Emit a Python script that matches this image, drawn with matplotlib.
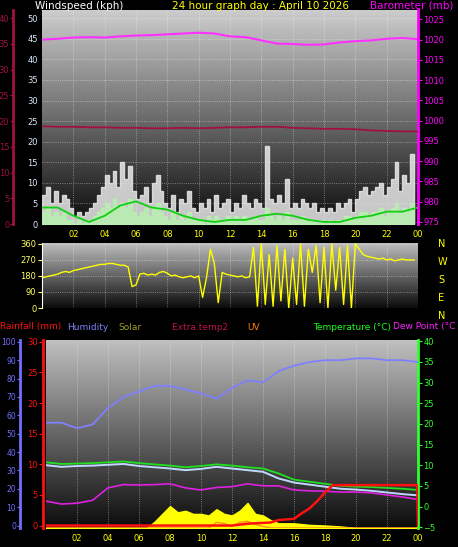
import numpy as np
import matplotlib.pyplot as plt

W, H = 458, 547

# ---- data ----
hours = list(range(25))
baro = [1020, 1020.2, 1020.5, 1020.6, 1020.5, 1020.8, 1021, 1021.1, 1021.3, 1021.5, 1021.7, 1021.5,
        1020.8, 1020.6, 1019.8, 1019.0, 1018.9, 1018.7, 1018.8, 1019.3, 1019.6, 1019.8, 1020.2, 1020.4, 1020.1]
extra_temp = [19.0, 18.9, 18.9, 18.8, 18.8, 18.7, 18.7, 18.6, 18.6, 18.7, 18.6, 18.7,
              18.8, 18.8, 18.9, 18.9, 18.7, 18.6, 18.5, 18.5, 18.4, 18.2, 18.1, 18.0, 18.0]
wind_avg_line = [4, 4, 2, 0.5, 2, 4.5, 5.5, 4, 3.5, 2, 1, 0.5, 1, 1, 2, 2.5, 2, 1, 0.5, 0.5, 1.5, 2, 3, 3, 4]

q_hours = [i * 0.25 for i in range(96)]
gust = [7, 9, 5, 8, 5, 7, 6, 4, 2, 3, 2, 3, 4, 5, 7, 9, 12, 10, 13, 9, 15, 11, 14, 8,
        6, 7, 9, 5, 10, 12, 8, 5, 4, 7, 3, 6, 5, 8, 4, 3, 5, 4, 6, 3, 7, 4, 5, 6,
        3, 5, 4, 7, 5, 4, 6, 5, 4, 19, 6, 5, 7, 5, 11, 4, 5, 4, 6, 5, 4, 5, 3, 4,
        3, 4, 3, 5, 4, 5, 6, 3, 6, 8, 9, 7, 8, 9, 10, 7, 9, 11, 15, 8, 12, 10, 17, 8]
wind_avg = [3, 4, 2, 3, 2, 3, 1, 1, 0, 1, 0, 1, 1, 2, 3, 4, 5, 4, 6, 4, 5, 4, 6, 3,
            2, 3, 4, 2, 4, 5, 3, 2, 1, 3, 1, 2, 1, 3, 1, 1, 1, 0, 2, 1, 2, 1, 1, 2,
            1, 2, 1, 2, 1, 1, 2, 1, 1, 4, 2, 1, 2, 1, 3, 1, 1, 1, 2, 1, 1, 1, 0, 1,
            0, 1, 0, 1, 1, 2, 2, 1, 2, 3, 3, 2, 3, 3, 4, 2, 3, 4, 5, 3, 4, 3, 5, 3]
wind_dir = [170, 175, 180, 185, 190, 200, 205, 200, 210, 215, 220, 225, 230, 235, 240, 245,
            245, 250, 250, 245, 240, 240, 230, 120, 130, 190, 195, 185, 190, 185, 200, 205,
            195, 180, 185, 175, 170, 175, 180, 170, 180, 60, 170, 330, 250, 30, 200, 190,
            185, 180, 175, 180, 170, 175, 340, 10, 360, 20, 300, 10, 350, 40, 330, 0,
            280, 20, 360, 10, 330, 200, 350, 30, 340, 0, 360, 100, 340, 20, 350, 0,
            360, 330, 300, 290, 285, 280, 275, 280, 270, 275, 265, 270, 275, 270, 270, 270]

humidity = [56, 56, 53, 55, 64, 70, 73, 76, 76, 74, 72, 69, 75, 79, 78, 84, 87, 89, 90, 90, 91, 91, 90, 90, 89]
rain_h = [0, 6, 12, 13, 14.5, 15, 16, 16.5, 17, 17.5, 18, 18.5, 23.95, 24]
rain = [0, 0, 0, 0.3, 0.5, 0.9, 1.1, 2.0, 2.8, 4.0, 5.4, 6.6, 6.6, 0]
temp = [10.7, 10.3, 10.4, 10.5, 10.7, 10.9, 10.5, 10.2, 9.9, 9.5, 9.8, 10.2, 9.9, 9.5, 9.2, 8.0,
        6.5, 6.0, 5.5, 5.0, 4.8, 4.7, 4.5, 4.3, 4.0]
feels = [10.0, 9.6, 9.8, 9.9, 10.1, 10.3, 9.8, 9.5, 9.2, 8.8, 9.1, 9.6, 9.2, 8.8, 8.4, 6.8,
         5.8, 5.3, 4.8, 4.3, 4.1, 3.8, 3.4, 3.0, 2.7]
dew = [1.3, 0.6, 0.8, 1.5, 4.5, 5.3, 5.2, 5.3, 5.5, 4.5, 4.0, 4.6, 4.8, 5.5, 5.0, 5.0,
       4.0, 3.8, 3.7, 3.5, 3.5, 3.3, 2.8, 2.3, 1.7]
solar_h = [0, 6.5, 7, 7.5, 8, 8.5, 9, 9.5, 10, 10.5, 11, 11.5, 12, 12.5, 13, 13.5, 14, 14.5, 15, 16, 17, 18, 19, 20, 24]
solar = [0, 0, 20, 45, 70, 50, 55, 45, 45, 40, 60, 45, 40, 55, 80, 45, 40, 25, 15, 15, 10, 8, 5, 0, 0]
uv_h = [0, 10.5, 11, 11.5, 12, 12.5, 13, 13.5, 14, 14.5, 24]
uv = [0, 0, 1.5, 1.2, 0.5, 1.5, 1.8, 1.0, 0.4, 0, 0]

hour_ticks = list(range(2, 25, 2))
hour_labels = ['02', '04', '06', '08', '10', '12', '14', '16', '18', '20', '22', '00']

plt.rcParams['font.family'] = 'DejaVu Sans'
plt.rcParams['font.size'] = 6
fig = plt.figure(figsize=(W / 100, H / 100), dpi=100, facecolor='black')


def box(x0, y0, x1, y1):
    return [x0 / W, 1 - y1 / H, (x1 - x0) / W, (y1 - y0) / H]


def shade(ax, top, bottom):
    grad = np.linspace(top, bottom, 100).reshape(-1, 1)
    ax.imshow(grad, cmap='gray', vmin=0, vmax=1, aspect='auto', extent=[0, 1, 0, 1],
              transform=ax.transAxes, zorder=0)


def base(ax):
    ax.set_facecolor('black')
    ax.set_xlim(0, 24)
    ax.set_xticks(hour_ticks)
    ax.set_xticklabels(hour_labels, color='yellow')
    ax.tick_params(axis='x', length=0, pad=4)
    ax.grid(True, color='white', linestyle=':', linewidth=0.6, alpha=0.5)
    for s in ax.spines.values():
        s.set_visible(False)


def side(ax, color, where, offset, lim, ticks):
    ax.set_ylim(*lim)
    ax.set_yticks(ticks)
    for s in ax.spines.values():
        s.set_visible(False)
    ax.spines[where].set_visible(True)
    ax.spines[where].set_position(('outward', offset))
    ax.spines[where].set_color(color)
    ax.spines[where].set_linewidth(2)
    ax.yaxis.set_ticks_position(where)
    ax.tick_params(axis='y', colors=color, labelcolor=color, length=3, pad=1)


# ---- top panel: wind + barometer ----
ax1 = fig.add_axes(box(42, 10, 418, 224))
base(ax1)
shade(ax1, 0.8, 0.05)
ax1.set_ylim(0, 52)
ax1.set_yticks(range(0, 51, 5))
ax1.tick_params(axis='y', colors='#d8e8ff', length=0, pad=3)
ax1.fill_between(q_hours, gust, step='post', color='#e8e8e8', alpha=0.85, zorder=2)
ax1.fill_between(q_hours, wind_avg, step='post', color='#b8f0b0', alpha=0.85, zorder=3)
ax1.plot(hours, wind_avg_line, color='#10d010', lw=1.3, zorder=4)

ax1r = ax1.twinx()
side(ax1r, '#ff00ff', 'right', 0, (974.5, 1027.3), range(975, 1026, 5))
ax1r.plot(hours, baro, color='#ff30ff', lw=1.5)

ax1l = ax1.twinx()
side(ax1l, '#a01040', 'left', 21, (0, 41.6), range(0, 41, 5))
ax1l.tick_params(axis='y', pad=0.5, length=2)
ax1l.plot(hours, extra_temp, color='#a01040', lw=1.3)

fig.text(35 / W, 1 - 6 / H, 'Windspeed (kph)', color='white', fontsize=7.5, va='center')
fig.text(172 / W, 1 - 6 / H, '24 hour graph day : April 10 2026', color='yellow', fontsize=7.5, va='center')
fig.text(370 / W, 1 - 6 / H, 'Barometer (mb)', color='#ff00ff', fontsize=7.5, va='center')

# ---- middle panel: wind direction ----
ax2 = fig.add_axes(box(42, 243, 418, 308))
base(ax2)
shade(ax2, 0.75, 0.05)
ax2.set_xticklabels([])
ax2.set_ylim(0, 365)
ax2.set_yticks([0, 90, 180, 270, 360])
ax2.tick_params(axis='y', colors='#ffff60', length=3, pad=1)
ax2.spines['left'].set_visible(True)
ax2.spines['left'].set_color('white')
ax2.plot(q_hours, wind_dir, color='yellow', lw=1)
for lab, y in zip('NWSEN', [244, 262, 280, 298, 316]):
    fig.text(438 / W, 1 - y / H, lab, color='yellow', fontsize=7, va='center')

# ---- bottom panel: rain, humidity, temperatures ----
ax3 = fig.add_axes(box(46, 340, 418, 528))
base(ax3)
shade(ax3, 0.75, 0.05)
ax3.set_ylim(-5.2, 40.3)
ax3.set_yticks([])

ax3s = ax3.twinx()
ax3s.set_ylim(0, 600)
ax3s.set_yticks([])
for s in ax3s.spines.values():
    s.set_visible(False)
ax3s.fill_between(solar_h, solar, color='yellow', zorder=2)
ax3s.plot(uv_h, [u * 12 for u in uv], color='#ff9020', lw=1)

ax3t = ax3.twinx()
side(ax3t, '#30ff30', 'right', 0, (-5.2, 40.3), range(-5, 41, 5))
ax3t.plot(hours, feels, color='#c0d8ff', lw=1.4)
ax3t.plot(hours, temp, color='#20e020', lw=1.3)
ax3t.plot(hours, dew, color='#e020e0', lw=1.2)

ax3h = ax3.twinx()
side(ax3h, '#7070ff', 'left', 19, (-1.3, 101), range(0, 101, 10))
ax3h.tick_params(axis='y', pad=0.5, length=2, labelsize=5.5)
ax3h.plot(hours, humidity, color='#8080ff', lw=1.3)

ax3r = ax3.twinx()
side(ax3r, '#ff1010', 'left', 2, (-0.4, 30.3), range(0, 31, 5))
ax3r.plot(rain_h, rain, color='#ff1010', lw=1.8)

heads = [(0, 'Rainfall (mm)', '#ff1010'), (67, 'Humidity', '#8080ff'), (118, 'Solar', '#a0a020'),
         (172, 'Extra temp2', '#c01050'), (247, 'UV', '#ff8000'),
         (313, 'Temperature (\u00b0C)', '#20ff20'), (393, 'Dew Point (\u00b0C', '#ff20ff')]
for x, t, c in heads:
    fig.text(x / W, 1 - 327 / H, t, color=c, fontsize=6.5, va='center')

fig.savefig('out.png', dpi=100, facecolor='black')
